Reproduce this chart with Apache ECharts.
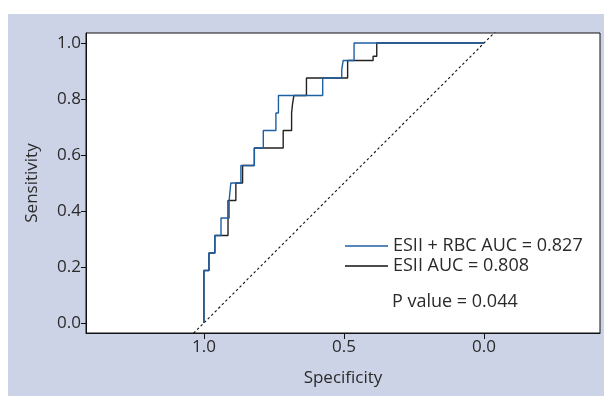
<!DOCTYPE html>
<html>
<head>
<meta charset="utf-8">
<script src="https://cdn.jsdelivr.net/npm/echarts@6/dist/echarts.min.js"></script>
<style>
html,body{margin:0;padding:0;background:#fff;}
#panel{position:absolute;left:8px;top:14px;width:596px;height:382px;background:#cdd3e6;}
#chart{position:absolute;left:0;top:0;width:604px;height:396px;}
</style>
</head>
<body>
<div id="panel"></div>
<div id="chart"></div>
<script>
// ROC curve vertices (specificity, sensitivity)
const blueName = 'ESII + RBC AUC = 0.827';
const blueSpec = [1, 1, 0.982, 0.982, 0.961, 0.961, 0.939, 0.939, 0.91, 0.91, 0.904, 0.904, 0.868, 0.868, 0.82, 0.82, 0.788, 0.788, 0.743, 0.743, 0.734, 0.734, 0.576, 0.576, 0.508, 0.508, 0.503, 0.503, 0.464, 0.464, 0];
const blueSens = [0, 0.1875, 0.1875, 0.25, 0.25, 0.3125, 0.3125, 0.375, 0.375, 0.4375, 0.4375, 0.5, 0.5, 0.5625, 0.5625, 0.625, 0.625, 0.6875, 0.6875, 0.75, 0.75, 0.8125, 0.8125, 0.875, 0.875, 0.905, 0.905, 0.9375, 0.9375, 1, 1];

const blackName = 'ESII AUC = 0.808';
const blackSpec = [1, 1, 0.982, 0.982, 0.961, 0.961, 0.914, 0.914, 0.886, 0.886, 0.862, 0.862, 0.82, 0.82, 0.717, 0.717, 0.687, 0.687, 0.684, 0.684, 0.679, 0.679, 0.634, 0.634, 0.487, 0.487, 0.396, 0.396, 0.383, 0.383, 0];
const blackSens = [0, 0.1875, 0.1875, 0.25, 0.25, 0.3125, 0.3125, 0.4375, 0.4375, 0.5, 0.5, 0.5625, 0.5625, 0.625, 0.625, 0.6875, 0.6875, 0.75, 0.75, 0.78, 0.78, 0.8125, 0.8125, 0.875, 0.875, 0.9375, 0.9375, 0.953, 0.953, 1, 1];

// chance diagonal (sensitivity = 1 - specificity)
const diagSpec = [1.1, -0.1];
const diagSens = [-0.1, 1.1];

const xTicks = [0, 0.5, 1];
const yTicks = [0, 0.2, 0.4, 0.6, 0.8, 1.0];
const pValueText = 'P value = 0.044';

const zip = (a, b) => a.map((v, i) => [v, b[i]]);
const FONT = 'Open Sans';
const TXT = '#2a2a2a';
const BLUE = '#1f5fa3';

const chart = echarts.init(document.getElementById('chart'), null, {renderer: 'canvas'});
chart.setOption({
  animation: false,
  backgroundColor: 'transparent',
  textStyle: {fontFamily: FONT},
  grid: {left: 86, top: 33, width: 514, height: 300, show: true, backgroundColor: '#fff', borderColor: '#111', borderWidth: 1},
  xAxis: {
    type: 'value', inverse: true, min: -0.414, max: 1.421,
    name: 'Specificity', nameLocation: 'middle', nameGap: 37,
    nameTextStyle: {fontSize: 17, color: TXT, fontFamily: FONT},
    axisLine: {show: true, onZero: false, lineStyle: {color: '#111'}},
    axisTick: {show: true, length: 6, customValues: xTicks, lineStyle: {color: '#111'}},
    axisLabel: {customValues: xTicks, fontSize: 17, color: TXT, margin: 6, fontFamily: FONT, formatter: v => v.toFixed(1)},
    splitLine: {show: false}
  },
  yAxis: {
    type: 'value', min: -0.036, max: 1.036,
    name: 'Sensitivity', nameLocation: 'middle', nameGap: 45,
    nameTextStyle: {fontSize: 17, color: TXT, fontFamily: FONT},
    axisLine: {show: true, onZero: false, lineStyle: {color: '#111'}},
    axisTick: {show: true, length: 5, customValues: yTicks, lineStyle: {color: '#111'}},
    axisLabel: {customValues: yTicks, fontSize: 17, color: TXT, margin: 5, fontFamily: FONT, formatter: v => v.toFixed(1)},
    splitLine: {show: false}
  },
  legend: {
    show: true, orient: 'vertical', left: 345, top: 237, padding: 0, itemWidth: 43, itemHeight: 1.5, itemGap: 2,
    icon: 'rect',
    textStyle: {fontSize: 18, color: TXT, fontFamily: FONT},
    data: [blueName, blackName]
  },
  graphic: [{type: 'text', left: 392, top: 293, style: {text: pValueText, font: '18px "Open Sans"', fill: TXT}}],
  series: [
    {type: 'line', name: 'diag', data: zip(diagSpec, diagSens), symbol: 'none', clip: true, silent: true,
     lineStyle: {color: '#111', width: 1.1, type: [2.5, 2.5]}},
    {type: 'line', name: blackName, data: zip(blackSpec, blackSens), symbol: 'none', clip: true,
     itemStyle: {color: '#111'}, lineStyle: {color: '#222', width: 1.4}},
    {type: 'line', name: blueName, data: zip(blueSpec, blueSens), symbol: 'none', clip: true,
     itemStyle: {color: BLUE}, lineStyle: {color: BLUE, width: 1.4}}
  ]
});
</script>
</body>
</html>
